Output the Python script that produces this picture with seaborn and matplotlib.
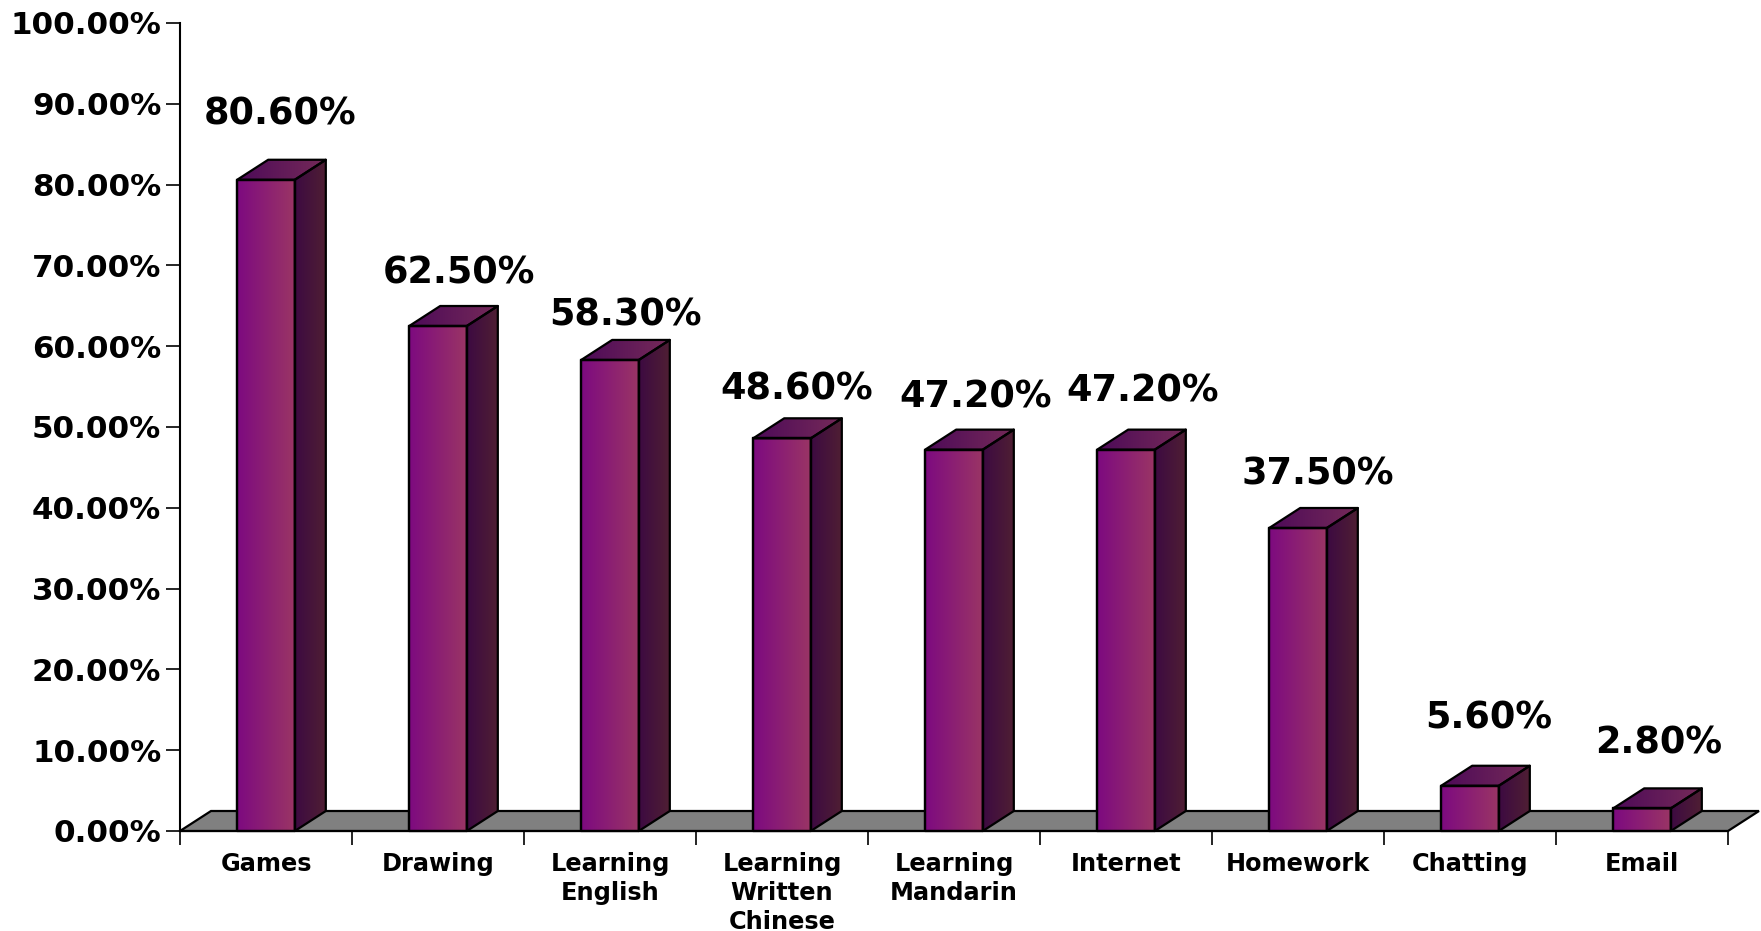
import matplotlib
matplotlib.use("Agg")
import matplotlib.pyplot as plt
from matplotlib.colors import LinearSegmentedColormap
from matplotlib.patches import Polygon
import numpy as np
import pandas as pd
import seaborn as sns

categories = ["Games", "Drawing", "Learning\nEnglish", "Learning\nWritten\nChinese",
              "Learning\nMandarin", "Internet", "Homework", "Chatting", "Email"]
shares = [80.6, 62.5, 58.3, 48.6, 47.2, 47.2, 37.5, 5.6, 2.8]
percent_ticks = [0, 10, 20, 30, 40, 50, 60, 70, 80, 90, 100]

# Hand-placed value labels: centre offset from the bar's front-top centre, in pixels
label_dx = [14, 21, 15, 15, 22, 17, 20, 19, 17]
label_dy = [66, 53, 45, 49, 53, 59, 54, 68, 65]

FIG_W, FIG_H = 1761, 931
AX_L, AX_R, AX_T, AX_B = 180, 1728, 23, 831
DEPTH_X_PX, DEPTH_Y_PX = 31, 20
EDGE = 1.6
FONT = "DejaVu Sans"

sns.set_theme(style="white")
plt.rcParams["font.family"] = [FONT]

fig = plt.figure(figsize=(FIG_W / 100, FIG_H / 100), dpi=100, facecolor="white")
ax = fig.add_axes([AX_L / FIG_W, 1 - AX_B / FIG_H, (AX_R - AX_L) / FIG_W, (AX_B - AX_T) / FIG_H])

df = pd.DataFrame({"activity": categories, "share": shares})
sns.barplot(data=df, x="activity", y="share", width=0.335, ax=ax,
            color="white", edgecolor="black", linewidth=EDGE, saturation=1, zorder=5)

x_limits = (-0.5, len(categories) - 0.5)
y_limits = (0, 100)
dx = DEPTH_X_PX / ((AX_R - AX_L) / len(categories))
dy = DEPTH_Y_PX / ((AX_B - AX_T) / 100)

front_cmap = LinearSegmentedColormap.from_list("front", ["#7d0a80", "#9a3565"])
side_cmap = LinearSegmentedColormap.from_list("side", ["#3d0a42", "#4f1f33"])
top_cmap = LinearSegmentedColormap.from_list("top", ["#4d0a58", "#752a58"])
ramp = np.linspace(0, 1, 128).reshape(1, -1)


def shaded_face(corners, cmap, zorder):
    """Fill a polygon with a left-to-right colour ramp and outline it."""
    pts = np.array(corners)
    outline = Polygon(pts, closed=True, facecolor="none", edgecolor="black",
                      linewidth=EDGE, joinstyle="round", zorder=zorder + 0.1, clip_on=False)
    ax.add_patch(outline)
    img = ax.imshow(ramp, cmap=cmap, aspect="auto", interpolation="bilinear", zorder=zorder,
                    extent=(pts[:, 0].min(), pts[:, 0].max(), pts[:, 1].min(), pts[:, 1].max()))
    img.set_clip_path(outline)


# Grey floor running underneath all the bars
floor = Polygon([(x_limits[0], 0), (x_limits[0] + dx, dy), (x_limits[1] + dx, dy), (x_limits[1], 0)],
                closed=True, facecolor="#808080", edgecolor="black", linewidth=EDGE,
                zorder=1, clip_on=False)
ax.add_patch(floor)

for bar, value, off_x, off_y in zip(ax.patches[:len(shares)], shares, label_dx, label_dy):
    x0, x1 = bar.get_x(), bar.get_x() + bar.get_width()
    bar.set_facecolor("none")
    shaded_face([(x0, 0), (x1, 0), (x1, value), (x0, value)], front_cmap, 3)
    shaded_face([(x1, 0), (x1 + dx, dy), (x1 + dx, value + dy), (x1, value)], side_cmap, 3)
    shaded_face([(x0, value), (x1, value), (x1 + dx, value + dy), (x0 + dx, value + dy)], top_cmap, 3)
    ax.annotate(f"{value:.2f}%", xy=((x0 + x1) / 2, value), xytext=(off_x, off_y),
                textcoords="offset pixels", ha="center", va="center",
                fontsize=26.4, fontweight="bold", color="black", zorder=6)

ax.set_xlim(*x_limits)
ax.set_ylim(*y_limits)
ax.set_xlabel("")
ax.set_ylabel("")

ax.set_yticks(percent_ticks)
ax.set_yticklabels([f"{t:.2f}%" for t in percent_ticks], fontsize=22.3, fontweight="bold", color="black")
ax.set_xticks(range(len(categories)))
ax.set_xticklabels(categories, fontsize=17.3, fontweight="bold", color="black", linespacing=1.27)
ax.set_xticks(np.arange(len(categories) + 1) - 0.5, minor=True)
ax.tick_params(axis="x", which="major", length=0, pad=15)
ax.tick_params(axis="x", which="minor", length=10, width=1.2, color="black", bottom=True)
ax.tick_params(axis="y", which="major", length=10, width=1.2, color="black", pad=3.5, left=True)

for side in ("top", "right"):
    ax.spines[side].set_visible(False)
for side in ("left", "bottom"):
    ax.spines[side].set_color("black")
    ax.spines[side].set_linewidth(1.5)
    ax.spines[side].set_zorder(2)

fig.savefig("out.png", dpi=100, facecolor="white")
